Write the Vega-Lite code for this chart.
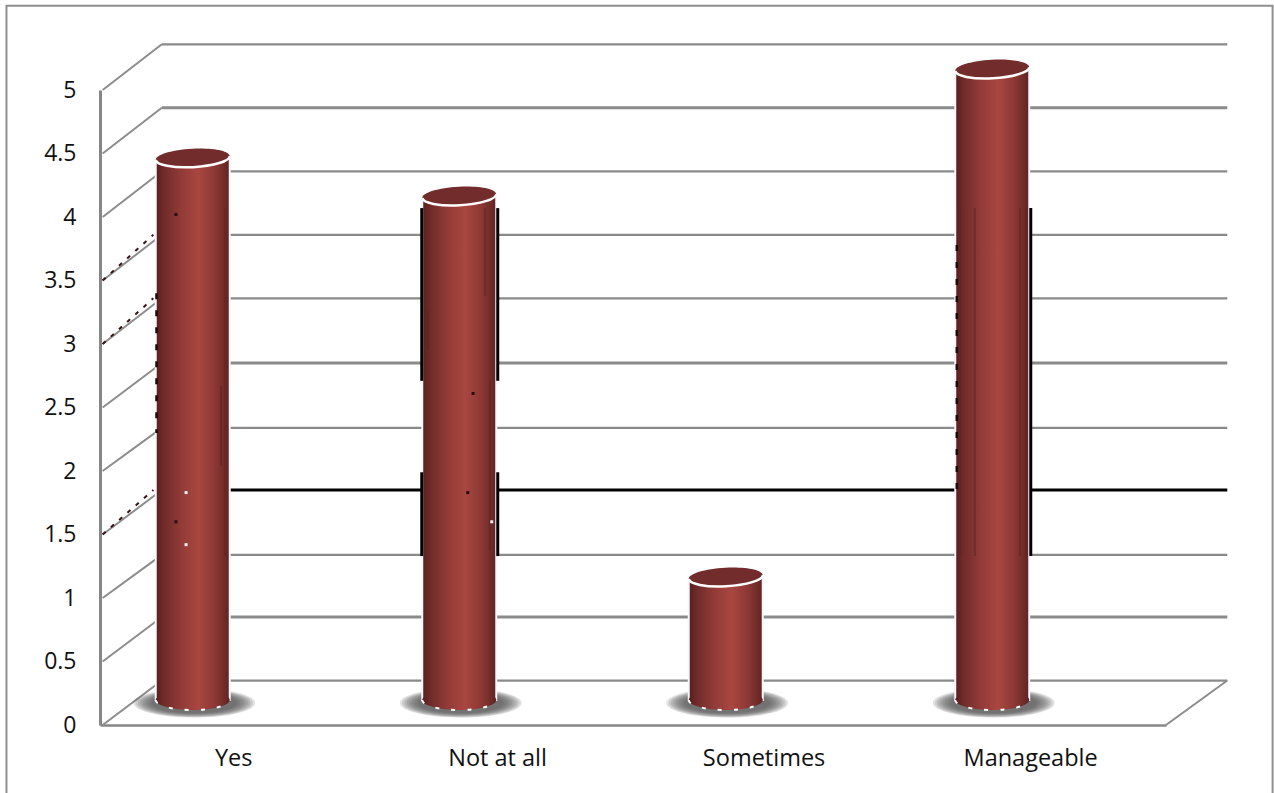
{
  "$schema": "https://vega.github.io/schema/vega-lite/v6.json",
  "width": 1066,
  "height": 635,
  "autosize": {"type": "none"},
  "padding": {"left": 100, "top": 90, "right": 108, "bottom": 68},
  "background": "white",
  "view": {"stroke": null},
  "config": {"font": "Open Sans", "axis": {"grid": false, "title": null}, "scale": {"continuousPadding": 0}},
  "datasets": {
    "answers": [
      {"answer": "Yes", "pos": 0.5, "count": 4.3},
      {"answer": "Not at all", "pos": 1.5, "count": 4},
      {"answer": "Sometimes", "pos": 2.5, "count": 1},
      {"answer": "Manageable", "pos": 3.5, "count": 5}
    ],
    "shadows": [
      {"pos": 0.5, "spread": 1}, {"pos": 0.5, "spread": 2}, {"pos": 0.5, "spread": 3}, {"pos": 0.5, "spread": 4}, {"pos": 0.5, "spread": 5}, {"pos": 0.5, "spread": 6}, {"pos": 0.5, "spread": 7}, {"pos": 0.5, "spread": 8},
      {"pos": 1.5, "spread": 1}, {"pos": 1.5, "spread": 2}, {"pos": 1.5, "spread": 3}, {"pos": 1.5, "spread": 4}, {"pos": 1.5, "spread": 5}, {"pos": 1.5, "spread": 6}, {"pos": 1.5, "spread": 7}, {"pos": 1.5, "spread": 8},
      {"pos": 2.5, "spread": 1}, {"pos": 2.5, "spread": 2}, {"pos": 2.5, "spread": 3}, {"pos": 2.5, "spread": 4}, {"pos": 2.5, "spread": 5}, {"pos": 2.5, "spread": 6}, {"pos": 2.5, "spread": 7}, {"pos": 2.5, "spread": 8},
      {"pos": 3.5, "spread": 1}, {"pos": 3.5, "spread": 2}, {"pos": 3.5, "spread": 3}, {"pos": 3.5, "spread": 4}, {"pos": 3.5, "spread": 5}, {"pos": 3.5, "spread": 6}, {"pos": 3.5, "spread": 7}, {"pos": 3.5, "spread": 8}
    ],
    "levels": [
      {"level": 0, "wall": 0.35},
      {"level": 0.5, "wall": 0.85},
      {"level": 1, "wall": 1.34},
      {"level": 1.5, "wall": 1.85},
      {"level": 2, "wall": 2.34},
      {"level": 2.5, "wall": 2.85},
      {"level": 3, "wall": 3.36},
      {"level": 3.5, "wall": 3.86},
      {"level": 4, "wall": 4.36},
      {"level": 4.5, "wall": 4.86},
      {"level": 5, "wall": 5.36}
    ],
    "streaks": [
      {"at": 0.454, "from": 2.67, "to": 2.04},
      {"at": 0.47, "from": 4.07, "to": 1.33},
      {"at": 1.231, "from": 3.26, "to": 2.95},
      {"at": 1.445, "from": 4.07, "to": 3.38},
      {"at": 1.463, "from": 2.71, "to": 1.37},
      {"at": 3.227, "from": 4.07, "to": 1.33},
      {"at": 3.283, "from": 4.07, "to": 1.33},
      {"at": 3.452, "from": 4.07, "to": 1.33},
      {"at": 3.475, "from": 4.07, "to": 1.33}
    ],
    "speckledEdges": [
      {"at": 0.212, "from": 3.4, "to": 2.3},
      {"at": 3.215, "from": 3.78, "to": 1.85}
    ],
    "specks": [
      {"at": 0.285, "height": 4.02, "tone": "dark"},
      {"at": 0.285, "height": 1.6, "tone": "dark"},
      {"at": 0.323, "height": 1.83, "tone": "light"},
      {"at": 0.323, "height": 1.42, "tone": "light"},
      {"at": 1.40, "height": 2.61, "tone": "dark"},
      {"at": 1.38, "height": 1.83, "tone": "dark"},
      {"at": 1.47, "height": 1.6, "tone": "light"}
    ],
    "leftEdges": [
      {"pos": 1.5, "from": 4.07, "to": 2.71},
      {"pos": 1.5, "from": 1.99, "to": 1.33}
    ],
    "rightEdges": [
      {"pos": 1.5, "from": 4.07, "to": 2.71},
      {"pos": 1.5, "from": 1.99, "to": 1.33},
      {"pos": 3.5, "from": 4.07, "to": 1.33}
    ],
    "frame": [{"left": -0.351, "right": 4.4, "top": 5.664, "bottom": -0.6}],
    "floorEdge": [{"a": 4, "b": 4.23, "low": 0, "high": 0.35}]
  },
  "layer": [
    {
      "data": {"name": "frame"},
      "mark": {"type": "rect", "fill": "transparent", "stroke": "#8f8f8f", "strokeWidth": 2, "clip": false},
      "encoding": {
        "x": {"field": "left", "type": "quantitative", "scale": {"domain": [0, 4], "nice": false, "zero": false},
          "axis": {"values": [0.5, 1.49, 2.49, 3.49], "labelExpr": "['Yes','Not at all','Sometimes','Manageable'][floor(datum.value)]", "labelFontSize": 23.5, "labelColor": "#111", "labelPadding": 21, "ticks": false, "domainColor": "#868686", "domainWidth": 2.5, "labelAngle": 0, "labelFlush": false, "labelOverlap": false}},
        "x2": {"field": "right"},
        "y": {"field": "top", "type": "quantitative", "scale": {"domain": [0, 5], "nice": false, "zero": false},
          "axis": {"values": [0, 0.5, 1, 1.5, 2, 2.5, 3, 3.5, 4, 4.5, 5], "format": "~g", "labelFontSize": 23, "labelColor": "#111", "labelPadding": 24, "ticks": false, "domainColor": "#868686", "domainWidth": 3, "labelFlush": false, "labelOverlap": false}},
        "y2": {"field": "bottom"}
      }
    },
    {
      "data": {"name": "floorEdge"},
      "mark": {"type": "rule", "stroke": "#8c8c8c", "strokeWidth": 2, "clip": false},
      "encoding": {
        "x": {"field": "a", "type": "quantitative"},
        "x2": {"field": "b"},
        "y": {"field": "low", "type": "quantitative"},
        "y2": {"field": "high"}
      }
    },
    {
      "data": {"name": "levels"},
      "mark": {"type": "rule", "stroke": "#8c8c8c", "strokeWidth": 2, "clip": false},
      "encoding": {
        "x": {"datum": 0.01, "type": "quantitative"},
        "x2": {"datum": 0.232},
        "y": {"field": "level", "type": "quantitative"},
        "y2": {"field": "wall"}
      }
    },
    {
      "data": {"name": "levels"},
      "transform": [{"filter": "datum.level === 1.5 || datum.level === 3 || datum.level === 3.5"}],
      "mark": {"type": "rule", "stroke": "#3a1214", "strokeWidth": 2, "strokeDash": [4, 7], "clip": false},
      "encoding": {
        "x": {"datum": 0.01, "type": "quantitative"},
        "x2": {"datum": 0.2},
        "y": {"field": "level", "type": "quantitative"},
        "y2": {"field": "wall"}
      }
    },
    {
      "data": {"name": "levels"},
      "mark": {"type": "rule", "clip": false},
      "encoding": {
        "x": {"datum": 0.232, "type": "quantitative"},
        "x2": {"datum": 4.23},
        "y": {"field": "wall", "type": "quantitative"},
        "color": {"condition": {"test": "datum.level === 1.5", "value": "#000000"}, "value": "#8a8a8a"},
        "strokeWidth": {"condition": {"test": "datum.level === 1.5 || datum.level === 2.5 || datum.level === 0.5 || datum.level === 4.5", "value": 3}, "value": 2.3}
      }
    },
    {
      "data": {"name": "shadows"},
      "mark": {"type": "point", "filled": true, "fill": "#3c3c3c", "opacity": 0.14, "xOffset": -39, "yOffset": -22, "clip": false,
        "shape": "M-1,0A1,0.24,0,1,1,1,0A1,0.24,0,1,1,-1,0Z"},
      "encoding": {
        "x": {"field": "pos", "type": "quantitative"},
        "y": {"datum": 0, "type": "quantitative"},
        "size": {"field": "spread", "type": "quantitative", "legend": null, "scale": {"domain": [1, 8], "range": [7400, 14884], "zero": false}}
      }
    },
    {
      "data": {"name": "answers"},
      "mark": {"type": "bar", "orient": "vertical", "size": 74, "xOffset": -40.5, "yOffset": -21, "y2Offset": -25, "clip": false,
        "stroke": "#f6f6fb", "strokeWidth": 2,
        "fill": {"gradient": "linear", "x1": 0, "y1": 0, "x2": 1, "y2": 0,
          "stops": [{"offset": 0, "color": "#571f1f"}, {"offset": 0.12, "color": "#712c2a"}, {"offset": 0.35, "color": "#933b38"}, {"offset": 0.58, "color": "#a94640"}, {"offset": 0.8, "color": "#8c3835"}, {"offset": 1, "color": "#5f2422"}]}},
      "encoding": {
        "x": {"field": "pos", "type": "quantitative"},
        "y": {"field": "count", "type": "quantitative"},
        "y2": {"datum": 0}
      }
    },
    {
      "data": {"name": "answers"},
      "mark": {"type": "point", "filled": true, "size": 5476, "opacity": 1, "xOffset": -40.5, "yOffset": -25, "clip": false,
        "shape": "M-1,0A1,0.27,0,1,0,1,0A1,0.27,0,1,0,-1,0Z",
        "fill": {"gradient": "linear", "x1": 0, "y1": 0, "x2": 1, "y2": 0,
          "stops": [{"offset": 0, "color": "#571f1f"}, {"offset": 0.12, "color": "#712c2a"}, {"offset": 0.35, "color": "#933b38"}, {"offset": 0.58, "color": "#a94640"}, {"offset": 0.8, "color": "#8c3835"}, {"offset": 1, "color": "#5f2422"}]}},
      "encoding": {
        "x": {"field": "pos", "type": "quantitative"},
        "y": {"datum": 0, "type": "quantitative"}
      }
    },
    {
      "data": {"name": "answers"},
      "mark": {"type": "point", "filled": false, "size": 5476, "opacity": 1, "stroke": "#ffffff", "strokeWidth": 2, "strokeDash": [4, 12], "xOffset": -40.5, "yOffset": -25, "clip": false,
        "shape": "M-1,0A1,0.27,0,0,0,1,0"},
      "encoding": {
        "x": {"field": "pos", "type": "quantitative"},
        "y": {"datum": 0, "type": "quantitative"}
      }
    },
    {
      "data": {"name": "streaks"},
      "mark": {"type": "rule", "stroke": "#5e2523", "strokeWidth": 2, "opacity": 0.55, "clip": false},
      "encoding": {
        "x": {"field": "at", "type": "quantitative"},
        "y": {"field": "from", "type": "quantitative"},
        "y2": {"field": "to"}
      }
    },
    {
      "data": {"name": "speckledEdges"},
      "mark": {"type": "rule", "stroke": "#1a0a0a", "strokeWidth": 2.5, "strokeDash": [6, 11], "clip": false},
      "encoding": {
        "x": {"field": "at", "type": "quantitative"},
        "y": {"field": "from", "type": "quantitative"},
        "y2": {"field": "to"}
      }
    },
    {
      "data": {"name": "specks"},
      "mark": {"type": "square", "size": 9, "opacity": 1, "clip": false},
      "encoding": {
        "x": {"field": "at", "type": "quantitative"},
        "y": {"field": "height", "type": "quantitative"},
        "color": {"condition": {"test": "datum.tone === 'light'", "value": "#f4eeee"}, "value": "#2a0c0c"}
      }
    },
    {
      "data": {"name": "answers"},
      "mark": {"type": "point", "filled": true, "size": 5476, "opacity": 1, "fill": "#732c2c", "xOffset": -40.5, "yOffset": -21, "angle": -3, "clip": false,
        "shape": "M-1,0A1,0.25,0,1,0,1,0A1,0.25,0,1,0,-1,0Z"},
      "encoding": {
        "x": {"field": "pos", "type": "quantitative"},
        "y": {"field": "count", "type": "quantitative"}
      }
    },
    {
      "data": {"name": "answers"},
      "mark": {"type": "point", "filled": false, "size": 5476, "opacity": 1, "stroke": "#ffffff", "strokeWidth": 2.5, "xOffset": -40.5, "yOffset": -21, "angle": -3, "clip": false,
        "shape": "M-1,0A1,0.25,0,0,0,1,0"},
      "encoding": {
        "x": {"field": "pos", "type": "quantitative"},
        "y": {"field": "count", "type": "quantitative"}
      }
    },
    {
      "data": {"name": "leftEdges"},
      "mark": {"type": "rule", "stroke": "#000000", "strokeWidth": 3, "xOffset": -78, "clip": false},
      "encoding": {
        "x": {"field": "pos", "type": "quantitative"},
        "y": {"field": "from", "type": "quantitative"},
        "y2": {"field": "to"}
      }
    },
    {
      "data": {"name": "rightEdges"},
      "mark": {"type": "rule", "stroke": "#000000", "strokeWidth": 3, "xOffset": -2, "clip": false},
      "encoding": {
        "x": {"field": "pos", "type": "quantitative"},
        "y": {"field": "from", "type": "quantitative"},
        "y2": {"field": "to"}
      }
    }
  ]
}
